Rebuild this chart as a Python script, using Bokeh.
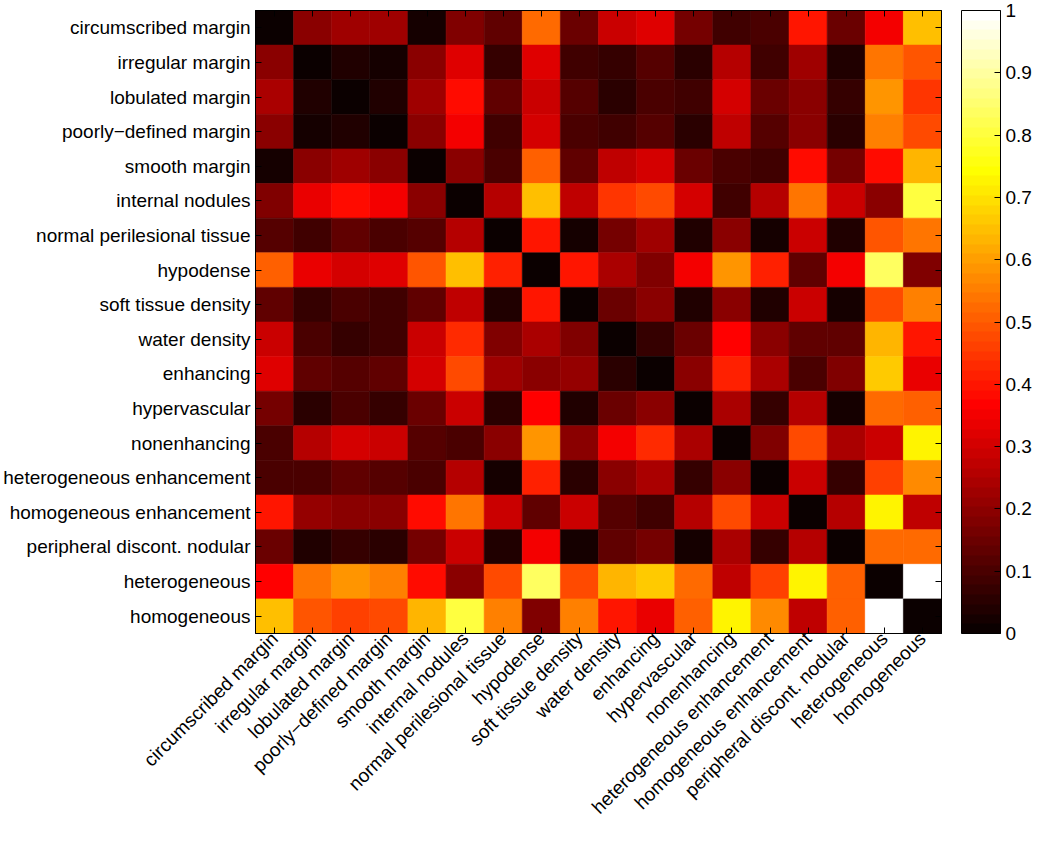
import math
from bokeh.plotting import figure
from bokeh.models import (ColumnDataSource, LinearColorMapper, ColorBar, FixedTicker,
                          CategoricalAxis, CustomJSTickFormatter, FactorRange)
from bokeh.transform import transform
from bokeh.embed import file_html
from bokeh.resources import INLINE

labels = ["circumscribed margin", "irregular margin", "lobulated margin",
          "poorly\u2212defined margin", "smooth margin", "internal nodules",
          "normal perilesional tissue", "hypodense", "soft tissue density",
          "water density", "enhancing", "hypervascular", "nonenhancing",
          "heterogeneous enhancement", "homogeneous enhancement",
          "peripheral discont. nodular", "heterogeneous", "homogeneous"]

row_circumscribed = [0.0, 0.20, 0.23, 0.22, 0.03, 0.18, 0.13, 0.52, 0.15, 0.29, 0.32, 0.16, 0.09, 0.10, 0.40, 0.15, 0.35, 0.655]
row_irregular = [0.19, 0.01, 0.045, 0.03, 0.19, 0.32, 0.07, 0.32, 0.08, 0.07, 0.12, 0.06, 0.26, 0.09, 0.22, 0.045, 0.54, 0.485]
row_lobulated = [0.235, 0.045, 0.0, 0.045, 0.22, 0.375, 0.13, 0.29, 0.12, 0.06, 0.10, 0.09, 0.31, 0.15, 0.19, 0.07, 0.58, 0.45]
row_poorly = [0.20, 0.02, 0.045, 0.01, 0.20, 0.345, 0.09, 0.31, 0.10, 0.09, 0.12, 0.06, 0.28, 0.12, 0.20, 0.06, 0.55, 0.48]
row_smooth = [0.03, 0.19, 0.22, 0.20, 0.01, 0.19, 0.10, 0.50, 0.13, 0.28, 0.31, 0.15, 0.10, 0.09, 0.38, 0.16, 0.38, 0.64]
row_internal = [0.18, 0.33, 0.375, 0.35, 0.19, 0.01, 0.26, 0.655, 0.28, 0.44, 0.48, 0.30, 0.09, 0.26, 0.545, 0.29, 0.20, 0.81]
row_normal = [0.12, 0.08, 0.13, 0.10, 0.11, 0.26, 0.01, 0.40, 0.03, 0.16, 0.22, 0.045, 0.20, 0.03, 0.29, 0.045, 0.485, 0.545]
row_hypodense = [0.50, 0.33, 0.30, 0.32, 0.485, 0.65, 0.41, 0.0, 0.40, 0.24, 0.18, 0.35, 0.58, 0.41, 0.125, 0.345, 0.83, 0.18]
row_soft = [0.13, 0.07, 0.10, 0.09, 0.125, 0.28, 0.035, 0.40, 0.01, 0.15, 0.19, 0.035, 0.20, 0.045, 0.29, 0.03, 0.47, 0.55]
row_water = [0.29, 0.10, 0.065, 0.09, 0.29, 0.435, 0.18, 0.24, 0.18, 0.01, 0.065, 0.15, 0.36, 0.19, 0.125, 0.14, 0.63, 0.40]
row_enhancing = [0.32, 0.14, 0.12, 0.13, 0.31, 0.48, 0.23, 0.20, 0.21, 0.05, 0.0, 0.19, 0.41, 0.235, 0.10, 0.18, 0.67, 0.34]
row_hypervascular = [0.16, 0.06, 0.10, 0.07, 0.15, 0.29, 0.05, 0.36, 0.045, 0.15, 0.19, 0.0, 0.235, 0.065, 0.26, 0.03, 0.52, 0.51]
row_nonenhancing = [0.10, 0.26, 0.31, 0.29, 0.11, 0.10, 0.20, 0.58, 0.20, 0.35, 0.43, 0.235, 0.01, 0.18, 0.47, 0.235, 0.29, 0.73]
row_het_enh = [0.10, 0.10, 0.14, 0.12, 0.10, 0.25, 0.03, 0.42, 0.05, 0.19, 0.235, 0.065, 0.19, 0.01, 0.29, 0.065, 0.455, 0.57]
row_hom_enh = [0.40, 0.21, 0.19, 0.20, 0.38, 0.545, 0.29, 0.125, 0.29, 0.12, 0.09, 0.26, 0.47, 0.29, 0.01, 0.25, 0.73, 0.28]
row_peripheral = [0.155, 0.035, 0.065, 0.06, 0.17, 0.29, 0.045, 0.35, 0.03, 0.125, 0.16, 0.03, 0.235, 0.065, 0.25, 0.01, 0.52, 0.52]
row_heterogeneous = [0.36, 0.545, 0.58, 0.55, 0.38, 0.20, 0.47, 0.83, 0.48, 0.63, 0.66, 0.52, 0.28, 0.455, 0.73, 0.51, 0.01, 1.0]
row_homogeneous = [0.65, 0.49, 0.465, 0.47, 0.64, 0.81, 0.55, 0.18, 0.55, 0.40, 0.34, 0.51, 0.73, 0.57, 0.28, 0.51, 1.0, 0.01]

cb_ticks = [0, 0.1, 0.2, 0.3, 0.4, 0.5, 0.6, 0.7, 0.8, 0.9, 1]

rows = [row_circumscribed, row_irregular, row_lobulated, row_poorly, row_smooth,
        row_internal, row_normal, row_hypodense, row_soft, row_water, row_enhancing,
        row_hypervascular, row_nonenhancing, row_het_enh, row_hom_enh,
        row_peripheral, row_heterogeneous, row_homogeneous]

# MATLAB "hot" colormap, 64 levels
def hot_palette(n=64):
    n1 = int(3 * n / 8)
    n2 = n1
    n3 = n - n1 - n2
    out = []
    for i in range(n):
        r = min(1.0, (i + 1) / n1)
        g = min(1.0, max(0.0, (i + 1 - n1) / n2))
        b = min(1.0, max(0.0, (i + 1 - n1 - n2) / n3))
        out.append("#%02x%02x%02x" % (round(r * 255), round(g * 255), round(b * 255)))
    return out

palette = hot_palette(64)
mapper = LinearColorMapper(palette=palette, low=0, high=1)

xs, ys, vs = [], [], []
for i, row in enumerate(rows):
    for j, v in enumerate(row):
        xs.append(labels[j])
        ys.append(labels[i])
        vs.append(v)
src = ColumnDataSource(dict(x=xs, y=ys, v=vs))

FONT = "Liberation Sans"
FS = "19px"

p = figure(width=1034, height=828,
           x_range=FactorRange(factors=labels),
           y_range=FactorRange(factors=labels[::-1]),
           output_backend="svg", toolbar_location=None,
           min_border_left=250, min_border_top=10, min_border_right=0, min_border_bottom=0)

p.rect(x="x", y="y", width=1, height=1, source=src,
       fill_color=transform("v", mapper), line_color=transform("v", mapper), line_width=0.6)

p.xgrid.visible = False
p.ygrid.visible = False
p.outline_line_color = "black"
p.outline_line_width = 1

for ax in [p.xaxis[0], p.yaxis[0]]:
    ax.major_tick_in = 6
    ax.major_tick_out = 0
    ax.major_tick_line_color = "black"
    ax.axis_line_color = "black"
    ax.major_label_text_font = FONT
    ax.major_label_text_font_size = FS
    ax.major_label_text_color = "black"
p.yaxis.major_label_standoff = 5
p.xaxis.major_label_standoff = 2
p.xaxis.major_label_orientation = math.pi / 4

ax_top = CategoricalAxis(major_label_text_font_size="1px", major_label_text_color=None,
                         major_label_standoff=0,
                         major_tick_in=6, major_tick_out=0, major_tick_line_color="black",
                         axis_line_color="black")
p.add_layout(ax_top, "above")
ax_right = CategoricalAxis(major_label_text_font_size="1px", major_label_text_color=None,
                           major_label_standoff=0,
                           major_tick_in=6, major_tick_out=0, major_tick_line_color="black",
                           axis_line_color="black")
p.add_layout(ax_right, "right")

cb = ColorBar(color_mapper=mapper, ticker=FixedTicker(ticks=cb_ticks),
              formatter=CustomJSTickFormatter(code="return tick.toString();"),
              width=39, padding=0, margin=0, location=(20, 0),
              major_tick_in=6, major_tick_out=0, major_tick_line_color="black",
              bar_line_color="black", label_standoff=5,
              major_label_text_font=FONT, major_label_text_font_size=FS,
              major_label_text_color="black", border_line_color=None,
              background_fill_color=None)
p.add_layout(cb, "right")

open("out.html", "w").write(file_html(p, INLINE))
